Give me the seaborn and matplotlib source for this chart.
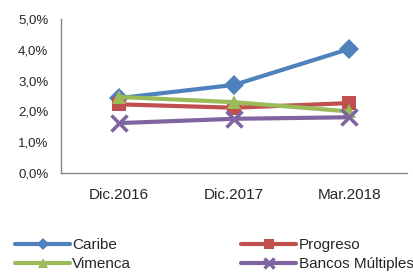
import pandas as pd
import matplotlib.pyplot as plt
import matplotlib.ticker as mticker
import seaborn as sns

periodos = ['Dic.2016', 'Dic.2017', 'Mar.2018']
caribe = [2.43, 2.86, 4.03]
progreso = [2.23, 2.12, 2.27]
vimenca = [2.47, 2.30, 2.00]
bancos = [1.62, 1.76, 1.81]

series = ['Caribe', 'Progreso', 'Vimenca', 'Bancos Múltiples']
valores = [caribe, progreso, vimenca, bancos]
colores = ['#4F81BD', '#C0504D', '#9BBB59', '#8064A2']
marcadores = ['D', 's', '^', 'x']

rows = []
for s, vals in zip(series, valores):
    for i, v in enumerate(vals):
        rows.append({'Serie': s, 'pos': i, 'valor': v})
df = pd.DataFrame(rows)

sns.set_theme(style='white')
plt.rcParams['font.family'] = ['Liberation Sans', 'DejaVu Sans']

fig = plt.figure(figsize=(4.14, 2.72), dpi=100)
ax = fig.add_axes([0.147, 0.364, 0.836, 0.566])

for s, c, m in zip(series, colores, marcadores):
    d = df[df['Serie'] == s]
    sns.lineplot(data=d, x='pos', y='valor', ax=ax, color=c, marker=m,
                 markersize=10 if m != 'x' else 12, markeredgewidth=0 if m != 'x' else 2.5,
                 markeredgecolor=c, linewidth=3, label=s, legend=False)

ax.set_xlim(-0.5, 2.5)
ax.set_ylim(0, 5)
ax.set_yticks([0, 1, 2, 3, 4, 5])
ax.yaxis.set_major_formatter(mticker.FuncFormatter(lambda v, p: f'{v:.1f}%'.replace('.', ',')))
ax.set_xticks([0, 1, 2])
ax.set_xticklabels(periodos)
ax.set_xticks([-0.5, 0.5, 1.5, 2.5], minor=True)
ax.tick_params(axis='x', which='major', length=0, pad=11, labelsize=11)
ax.tick_params(axis='x', which='minor', length=5, width=1, color='#868686', direction='out')
ax.tick_params(axis='y', length=5, width=1, color='#868686', direction='out', labelsize=9.5, pad=4)
ax.set_xlabel('')
ax.set_ylabel('')
for sp in ['top', 'right']:
    ax.spines[sp].set_visible(False)
for sp in ['left', 'bottom']:
    ax.spines[sp].set_color('#868686')
    ax.spines[sp].set_linewidth(1)

handles, labels = ax.get_legend_handles_labels()
order = [0, 2, 1, 3]
leg = fig.legend([handles[i] for i in order], [labels[i] for i in order],
                 loc='lower left', bbox_to_anchor=(15 / 414, 1 / 272), ncol=2,
                 frameon=False, fontsize=11, handlelength=3.6, handletextpad=0.15,
                 columnspacing=7.2, labelspacing=0.32, markerscale=0.65,
                 borderpad=0, borderaxespad=0)

fig.savefig('out.png', dpi=100)
